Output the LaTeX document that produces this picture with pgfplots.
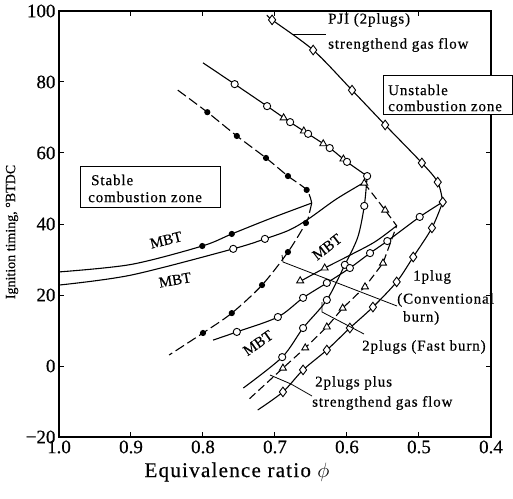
\documentclass[border=0pt]{standalone}
\usepackage{fontspec}
\setmainfont{Liberation Serif}[FakeBold=0.4]
\newfontfamily\ls[LetterSpace=6, FakeBold=0.4]{Liberation Serif}
\usepackage{pgfplots}
\pgfplotsset{compat=1.18}
\pgfplotsset{
 ocm/.style={only marks, mark=*, mark size=3.6pt, mark options={solid, fill=white, draw=black, line width=0.9pt}},
 fcm/.style={only marks, mark=*, mark size=2.5pt, mark options={solid, fill=black}},
 trm/.style={only marks, mark=triangle*, mark size=4pt, mark options={solid, fill=white, draw=black, line width=0.9pt}},
 dmm/.style={only marks, mark=diamond*, mark size=4.8pt, mark options={solid, fill=white, draw=black, line width=0.9pt}},
}
\begin{document}
\begin{tikzpicture}
\begin{axis}[
  scale only axis, width=432pt, height=426pt,
  at={(0pt,0pt)}, anchor=south west,
  x dir=reverse, xmin=0.4, xmax=1.0, ymin=-20, ymax=100,
  xtick={0.4,0.5,0.6,0.7,0.8,0.9,1.0},
  xticklabels={0.4,0.5,0.6,0.7,0.8,0.9,1.0},
  ytick={-20,0,20,40,60,80,100},
  yticklabels={−20,0,20,40,60,80,100},
  tick align=inside, major tick length=5pt,
  axis line style={line width=1.3pt},
  every tick/.style={line width=1pt,black},
  ticklabel style={font=\fontsize{19}{19}\selectfont},
  clip=false,
  every axis plot/.append style={line width=1.1pt, black},
]
% ---- 1 plug region (filled circles)
\addplot[dash pattern=on 10pt off 4pt, smooth] coordinates {(0.835,77.7) (0.794,71.5) (0.753,64.8) (0.7125,58.6) (0.682,53.5) (0.656,49.6) (0.649,45.9)};
\addplot[dash pattern=on 10pt off 4pt, smooth] coordinates {(0.649,45.9) (0.653,42.5) (0.657,40.3) (0.682,32.1) (0.718,22.8) (0.760,14.9) (0.800,9.3) (0.847,3.1)};
\addplot[smooth] coordinates {(1.0,26.5) (0.9,28.6) (0.801,33.8) (0.760,37.2) (0.707,41.5) (0.649,45.9)};
% ---- open circles
\addplot[smooth] coordinates {(1.0,22.8) (0.9,25.6) (0.758,33.0) (0.714,35.8) (0.68,38.3) (0.653,41.5) (0.615,47.0) (0.578,51.5)};
\addplot[smooth] coordinates {(0.800,85.4) (0.756,79.4) (0.711,73.2) (0.679,68.7) (0.654,65.4) (0.624,61.4) (0.600,57.5) (0.572,53.5)};
\addplot[smooth] coordinates {(0.572,53.5) (0.576,45.1) (0.585,36.3) (0.603,28.5) (0.628,18.6) (0.661,10.7) (0.690,2.5) (0.744,-6.2)};
% ---- triangles
\addplot[dash pattern=on 8pt off 4pt] coordinates {(0.576,51.5) (0.547,43.9) (0.531,39.5) (0.550,29.0) (0.575,22.3) (0.606,16.3) (0.628,11.0) (0.658,5.1) (0.689,-0.6) (0.7375,-9.6)};
\addplot[smooth] coordinates {(0.668,23.5) (0.631,27.6) (0.596,31.2) (0.561,35.0) (0.531,39.5)};
% ---- diamonds (PJI)
\addplot[smooth] coordinates {(0.711,98.9) (0.704,97.5) (0.647,89.0) (0.593,77.7) (0.547,67.9) (0.496,57.2) (0.474,51.8) (0.467,46.2)};
\addplot[smooth] coordinates {(0.467,46.2) (0.482,38.9) (0.508,30.7) (0.531,23.7) (0.564,16.6) (0.596,10.7) (0.628,4.5) (0.661,-1.1) (0.689,-7.3) (0.724,-12.4)};
\addplot[smooth] coordinates {(0.467,46.2) (0.499,42.0) (0.544,35.2) (0.568,31.8) (0.596,27.6) (0.628,23.4) (0.661,19.2) (0.696,13.8) (0.753,9.6) (0.786,7.3)};
% ---- markers
\addplot[fcm] coordinates {(0.794,71.5) (0.753,64.8) (0.7125,58.6) (0.682,53.5) (0.656,49.6) (0.657,40.3) (0.682,32.1) (0.718,22.8) (0.760,14.9) (0.800,9.3) (0.801,33.8) (0.760,37.2)};
\addplot[trm] coordinates {(0.688,69.9) (0.660,66.2) (0.633,62.6) (0.605,58.3) (0.576,51.5) (0.547,43.9) (0.550,29.0) (0.575,22.3) (0.606,16.3) (0.628,11.0) (0.658,5.1) (0.689,-0.6) (0.631,27.6) (0.665,24.0)};
\addplot[ocm] coordinates {(0.758,33.0) (0.714,35.8) (0.756,79.4) (0.711,73.2) (0.679,68.7) (0.654,65.4) (0.624,61.4) (0.600,57.5) (0.572,53.5) (0.576,45.1) (0.603,28.5) (0.628,18.6) (0.661,10.7) (0.690,2.5) (0.499,42.0) (0.544,35.2) (0.568,31.8) (0.596,27.6) (0.628,23.4) (0.661,19.2) (0.696,13.8) (0.753,9.6)};
\addplot[dmm] coordinates {(0.704,97.5) (0.647,89.0) (0.593,77.7) (0.547,67.9) (0.496,57.2) (0.474,51.8) (0.467,46.2) (0.482,38.9) (0.508,30.7) (0.531,23.7) (0.564,16.6) (0.596,10.7) (0.628,4.5) (0.661,-1.1) (0.689,-7.3)};
\end{axis}
\begin{scope}[shift={(-59pt,437pt)}, x=1pt, y=-1pt]
 \tikzset{lab/.style={anchor=west, inner sep=0pt, font=\ls\fontsize{15}{15}\selectfont},
          mbt/.style={inner sep=0pt, font=\rmfamily\fontsize{15}{15}\selectfont}}
 % leaders
 \draw[line width=0.8pt] (293,34) -- (326,34);
 \draw[line width=0.8pt] (282,255) -- (283,262) -- (397,306);
 \draw[line width=0.8pt] (322,302) -- (322,312) -- (364,334);
 \draw[line width=0.8pt] (270,375) -- (291,384) -- (312,396);
 % boxes
 \draw[line width=1pt, fill=white] (383,76) rectangle (512,115);
 \draw[line width=1pt, fill=white] (80,167) rectangle (220,208);
 \node[lab] at (388,90) {Unstable};
 \node[lab] at (388,106) {combustion zone};
 \node[lab] at (91,180) {Stable};
 \node[lab] at (88,197) {combustion zone};
 \node[lab] at (328,20) {PJI (2plugs)};
 \node[lab] at (328,45) {strengthend gas flow};
 \node[lab] at (413,277) {1plug};
 \node[lab] at (397,300) {(Conventional};
 \node[lab] at (403,318) {burn)};
 \node[lab] at (362,347) {2plugs (Fast burn)};
 \node[lab] at (315,383) {2plugs plus};
 \node[lab] at (312,403) {strengthend gas flow};
 \node[mbt, rotate=14] at (166,240) {MBT};
 \node[mbt, rotate=10] at (175,280) {MBT};
 \node[mbt, rotate=38] at (327,247) {MBT};
 \node[mbt, rotate=35] at (258,343) {MBT};
 \node[font=\ls\fontsize{21}{21}\selectfont, inner sep=0pt] at (237,472) {Equivalence ratio $\phi$};
 \node[font=\fontsize{14}{14}\selectfont, inner sep=0pt, rotate=90] at (12,232) {Ignition timing, °BTDC};
 \pgfresetboundingbox
 \path[use as bounding box] (0,0) rectangle (513,498);
\end{scope}
\end{tikzpicture}
\end{document}
